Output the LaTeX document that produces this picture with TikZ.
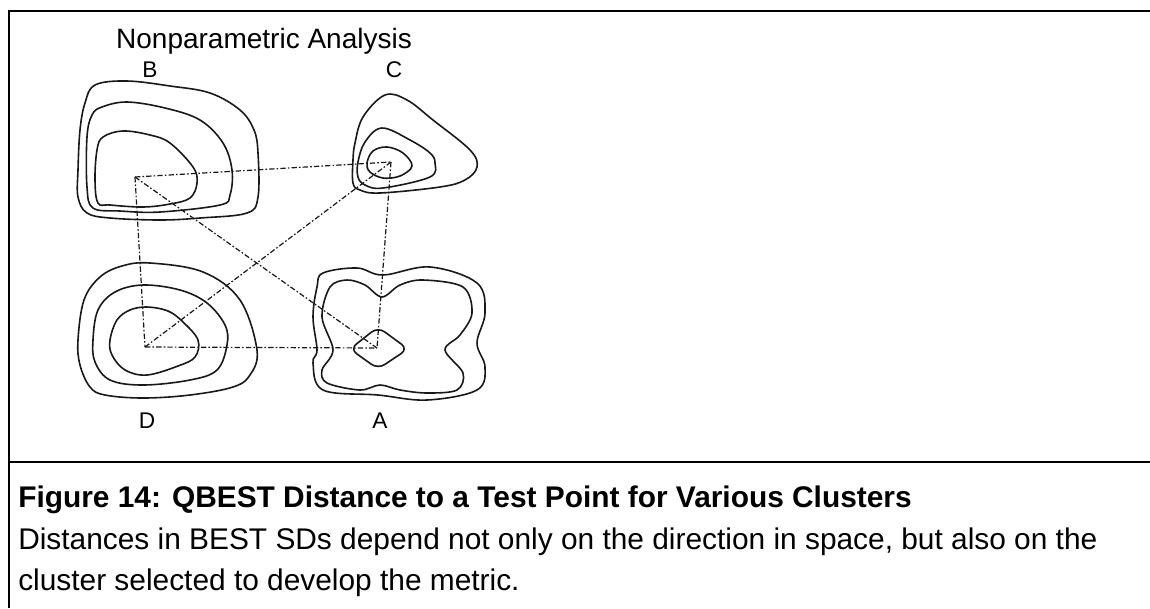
\documentclass[tikz,border=0pt]{standalone}
\usepackage{fontspec}
\setmainfont{Liberation Sans}
\usetikzlibrary{positioning}
\definecolor{ink}{RGB}{25,25,25}

\begin{document}
\begin{tikzpicture}[x=0.75pt, y=-0.75pt,
  contour/.style={ink, line width=1.2pt, line join=round},
  link/.style={ink, line width=0.9pt, dash pattern=on 4pt off 1.6pt on 1.2pt off 1.6pt},
  lbl/.style={font=\fontsize{17}{19}\selectfont, inner sep=0pt, anchor=base},
  capline/.style={font=\fontsize{22.4}{26}\selectfont, inner sep=0pt, anchor=base west}]
  \useasboundingbox (0,0) rectangle (1150,608);
  % frame and divider
  \draw[line width=1.5pt] (1150,11) -- (9,11) -- (9,608);
  \draw[line width=1.5pt] (9,462) -- (1150,462);

  \node[lbl, font=\fontsize{21}{24}\selectfont] (title) at (264,48) {Nonparametric Analysis};

  % cluster centres
  \coordinate (ctrB) at (135,177);
  \coordinate (ctrC) at (391,162);
  \coordinate (ctrD) at (145,347);
  \coordinate (ctrA) at (377,348);

  % cluster B
  \draw[contour] plot[smooth cycle, tension=0.6] coordinates {(95,85) (127,81) (170,86) (210,93) (240,110) (254,130) (258,153) (258,197) (247,213) (200,218) (160,220) (110,218) (87,213) (78,197) (78,170) (80,130) (85,103)};
  \draw[contour] plot[smooth cycle, tension=0.6] coordinates {(102,107) (127,102) (165,108) (200,120) (223,143) (232,170) (230,195) (220,205) (160,212) (120,211) (93,208) (87,187) (87,137) (92,115)};
  \draw[contour] plot[smooth cycle, tension=0.6] coordinates {(103,137) (123,131) (150,135) (170,143) (193,167) (197,183) (190,198) (170,204) (143,207) (110,205) (98,203) (95,180) (97,150)};

  % cluster C
  \draw[contour] plot[smooth cycle, tension=0.6] coordinates {(385,95) (407,100) (433,120) (470,150) (477,167) (465,180) (440,187) (380,193) (360,190) (353,183) (353,160) (355,143) (363,117)};
  \draw[contour] plot[smooth cycle, tension=0.6] coordinates {(382,128) (410,140) (430,153) (435,163) (430,177) (383,188) (365,185) (358,177) (358,162) (365,142)};
  \draw[contour] plot[smooth cycle, tension=0.6] coordinates {(387,147) (403,153) (412,166) (400,176) (383,178) (370,172) (367,163) (373,151)};

  % cluster D
  \draw[contour] plot[smooth cycle, tension=0.6] coordinates {(150,263) (203,272) (240,300) (257,350) (250,375) (233,387) (190,395) (143,398) (105,395) (90,387) (80,365) (78,340) (84,300) (100,277) (122,266)};
  \draw[contour] plot[smooth cycle, tension=0.6] coordinates {(143,285) (180,290) (207,303) (225,325) (227,345) (217,370) (190,380) (143,385) (110,380) (95,362) (93,340) (98,310) (115,292)};
  \draw[contour] plot[smooth cycle, tension=0.6] coordinates {(147,307) (168,311) (183,322) (198,340) (195,357) (178,366) (147,375) (125,370) (112,355) (110,340) (117,320) (130,310)};

  % cluster A
  \draw[contour] plot[smooth cycle, tension=0.6] coordinates {(323,273) (357,268) (383,275) (430,267) (477,283) (485,313) (477,343) (485,367) (477,390) (427,400) (378,395) (323,390) (313,363) (317,350) (313,317) (317,287)};
  \draw[contour] plot[smooth cycle, tension=0.55] coordinates {(333,350) (322,317) (330,287) (347,280) (365,285) (382,297) (400,285) (423,280) (463,287) (472,313) (460,335) (445,350) (463,373) (457,390) (427,393) (400,390) (380,385) (360,390) (327,383) (322,370)};
  \draw[contour, rounded corners=6pt] (378,327) -- (408,349) -- (378,369) -- (350,349) -- cycle;

  % distances between centres
  \draw[link] (ctrB) -- (ctrC);
  \draw[link] (ctrB) -- (ctrD);
  \draw[link] (ctrB) -- (ctrA);
  \draw[link] (ctrD) -- (ctrC);
  \draw[link] (ctrC) -- (ctrA);
  \draw[link] (ctrD) -- (ctrA);

  % cluster labels
  \node[lbl] (labB) at (150,77) {B};
  \node[lbl] (labC) at (394,77) {C};
  \node[lbl] (labD) at (147,428) {D};
  \node[lbl] (labA) at (380,428) {A};

  % caption
  \node[capline] (cap1) at (18,507) {\bfseries Figure 14: QBEST Distance to a Test Point for Various Clusters};
  \node[capline] (cap2) at (18,549) {Distances in BEST SDs depend not only on the direction in space, but also on the};
  \node[capline] (cap3) at (18,590) {cluster selected to develop the metric.};
\end{tikzpicture}
\end{document}
